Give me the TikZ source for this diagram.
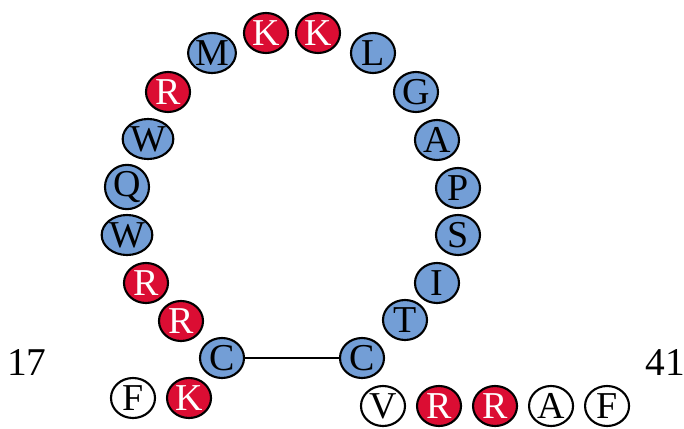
\documentclass[tikz,border=0pt]{standalone}
\usepackage{fontspec}
\setmainfont{Liberation Serif}
\usepackage{tikz}
\usetikzlibrary{positioning,shapes.geometric}
\definecolor{ringblue}{rgb}{0.45,0.62,0.84}
\definecolor{ringred}{rgb}{0.86,0.05,0.20}

\begin{document}
\begin{tikzpicture}[x=0.025cm, y=-0.025cm,
    every node/.style = {ellipse, draw, line width=1.5pt, minimum width=1.1cm, minimum height=1cm,
      inner sep=0pt, font=\fontsize{27}{30}\selectfont, node distance={1.4cm}},
    hyd/.style = {fill=ringblue},
    cat/.style = {fill=ringred, text=white}
    ]
    \useasboundingbox (0,0) rectangle (684,428);
    \node (17) at (133,398) {F};
    \node[cat] (18) [right of=17] {K};
    \node[hyd] (19) at (222,358) {C};
    \node[cat] (20) at (181,321) {R};
    \node[cat] (21) at (146,283) {R};
    \node[hyd] (22) at (127,235) {W};
    \node[hyd] (23) at (127,187) {Q};
    \node[hyd] (24) at (148,139) {W};
    \node[cat] (25) at (168,92) {R};
    \node[hyd] (26) at (212,53) {M};
    \node[cat] (27) at (266,33) {K};
    \node[cat] (28) at (318,33) {K};
    \node[hyd] (29) at (373,53) {L};
    \node[hyd] (30) at (416,92) {G};
    \node[hyd] (31) at (437,140) {A};
    \node[hyd] (32) at (458,188) {P};
    \node[hyd] (33) at (458,235) {S};
    \node[hyd] (34) at (437,283) {I};
    \node[hyd] (35) at (405,320) {T};
    \node[hyd] (36) at (362,358) {C};
    \node (37) at (383,406) {V};
    \node[cat] (38) [right of=37] {R};
    \node[cat] (39) [right of=38] {R};
    \node (40) [right of=39] {A};
    \node (41) [right of=40] {F};

    \node[draw=none, font=\fontsize{28}{32}\selectfont] (n17) at (27,362) {17};
    \node[draw=none, font=\fontsize{28}{32}\selectfont] (n41) at (665,362) {41};
    \draw[line width=1.2pt] (19) -- (36);
    \end{tikzpicture}
\end{document}
